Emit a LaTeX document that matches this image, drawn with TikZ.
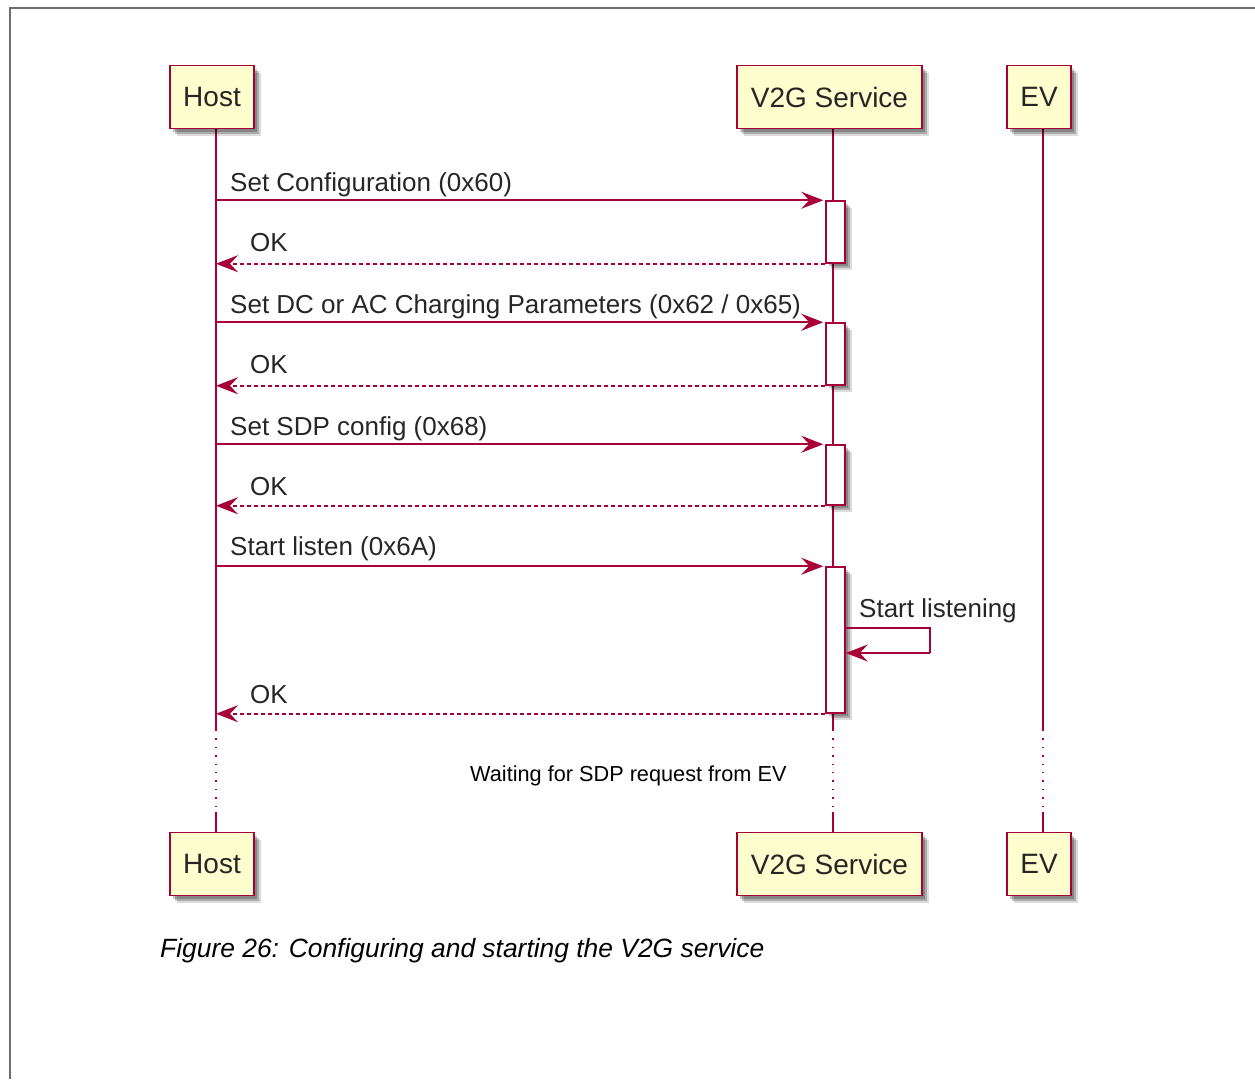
\documentclass[tikz,border=0pt]{standalone}
\usepackage{fontspec}
\setmainfont{Liberation Sans}
\usetikzlibrary{arrows.meta,shadows}
\definecolor{puborder}{HTML}{A80036}
\definecolor{pufill}{HTML}{FEFECE}
\definecolor{frame}{HTML}{6E6E6E}
\begin{document}
\begin{tikzpicture}[x=1pt,y=-1pt,
  softshadow/.style={
    general shadow={shadow xshift=3pt,shadow yshift=-3pt,fill=black,opacity=0.22},
    general shadow={shadow xshift=5pt,shadow yshift=-5pt,fill=black,opacity=0.22},
    general shadow={shadow xshift=7pt,shadow yshift=-7pt,fill=black,opacity=0.14}},
  participant/.style={draw=puborder,fill=pufill,line width=1.5pt,minimum height=63pt,inner sep=0pt,
    font=\fontsize{28}{32}\selectfont,text=black!85,softshadow},
  lifeline/.style={draw=puborder,line width=1.4pt},
  lifedots/.style={draw=puborder,line width=1.4pt,dash pattern=on 1.4pt off 7pt},
  actbox/.style={draw=puborder,fill=white,line width=1.5pt,minimum width=19pt,inner sep=0pt,softshadow},
  msg/.style={draw=puborder,line width=1.6pt,-{Stealth[length=22pt,width=17pt,inset=8pt]}},
  ret/.style={msg,dash pattern=on 4pt off 3pt},
  msglabel/.style={anchor=base west,inner sep=0pt,font=\fontsize{26}{30}\selectfont,text=black!85},
  note/.style={anchor=base west,inner sep=0pt,font=\fontsize{21.7}{25}\selectfont,text=black}
]
\useasboundingbox (0,0) rectangle (1255,1079);
% frame
\draw[frame,line width=1.5pt] (10,1079) -- (10,8) -- (1255,8);

% lifeline coordinates
\coordinate (hT) at (216,128); \coordinate (hD1) at (216,730); \coordinate (hD2) at (216,812); \coordinate (hB) at (216,832);
\coordinate (vT) at (833,128); \coordinate (vD1) at (833,730); \coordinate (vD2) at (833,812); \coordinate (vB) at (833,832);
\coordinate (eT) at (1043,128); \coordinate (eD1) at (1043,730); \coordinate (eD2) at (1043,812); \coordinate (eB) at (1043,832);

\foreach \p in {h,v,e}{
  \draw[lifeline] (\p T) -- (\p D1);
  \draw[lifedots] (\p D1) -- (\p D2);
  \draw[lifeline] (\p D2) -- (\p B);
}

% participants
\node[participant,minimum width=84pt] (hostTop) at (212,97) {Host};
\node[participant,minimum width=185pt] (v2gTop) at (829.5,97) {V2G Service};
\node[participant,minimum width=64pt] (evTop) at (1039,97) {EV};
\node[participant,minimum width=84pt] (hostBot) at (212,864) {Host};
\node[participant,minimum width=185pt] (v2gBot) at (829.5,864) {V2G Service};
\node[participant,minimum width=64pt] (evBot) at (1039,864) {EV};

% activation boxes
\node[actbox,minimum height=62pt] (act1) at (835.5,232) {};
\node[actbox,minimum height=62pt] (act2) at (835.5,354) {};
\node[actbox,minimum height=60pt] (act3) at (835.5,475) {};
\node[actbox,minimum height=146pt] (act4) at (835.5,640) {};

% messages
\draw[msg] (act1.north west -| hT) -- ([xshift=-2pt]act1.north west);
\node[msglabel] (l1) at (230,191) {Set Configuration (0x60)};
\draw[ret] (act1.south west) -- (act1.south west -| hT);
\node[msglabel] (r1) at (250,251) {OK};

\draw[msg] (act2.north west -| hT) -- ([xshift=-2pt]act2.north west);
\node[msglabel] (l2) at (230,313) {Set DC or AC Charging Parameters (0x62 / 0x65)};
\draw[ret] (act2.south west) -- (act2.south west -| hT);
\node[msglabel] (r2) at (250,373) {OK};

\draw[msg] (act3.north west -| hT) -- ([xshift=-2pt]act3.north west);
\node[msglabel] (l3) at (230,435) {Set SDP config (0x68)};
\draw[ret] (act3.south west) -- (act3.south west -| hT);
\node[msglabel] (r3) at (250,495) {OK};

\draw[msg] (act4.north west -| hT) -- ([xshift=-2pt]act4.north west);
\node[msglabel] (l4) at (230,555) {Start listen (0x6A)};

\coordinate (s1) at (930,628);
\coordinate (s2) at (930,653);
\draw[draw=puborder,line width=1.6pt] (act4.east |- s1) -- (s1) -- (s2);
\draw[msg] (s2) -- (act4.east |- s2);
\node[msglabel] (l5) at (859,617) {Start listening};

\draw[ret] (act4.south west) -- (act4.south west -| hT);
\node[msglabel] (r4) at (250,703) {OK};

\node[note] (wait) at (470,781) {Waiting for SDP request from EV};

\node[anchor=base west,inner sep=0pt,font=\fontsize{26.4}{30}\selectfont\itshape] (cap) at (160,957)
  {Figure 26: Configuring and starting the V2G service};
\end{tikzpicture}
\end{document}
